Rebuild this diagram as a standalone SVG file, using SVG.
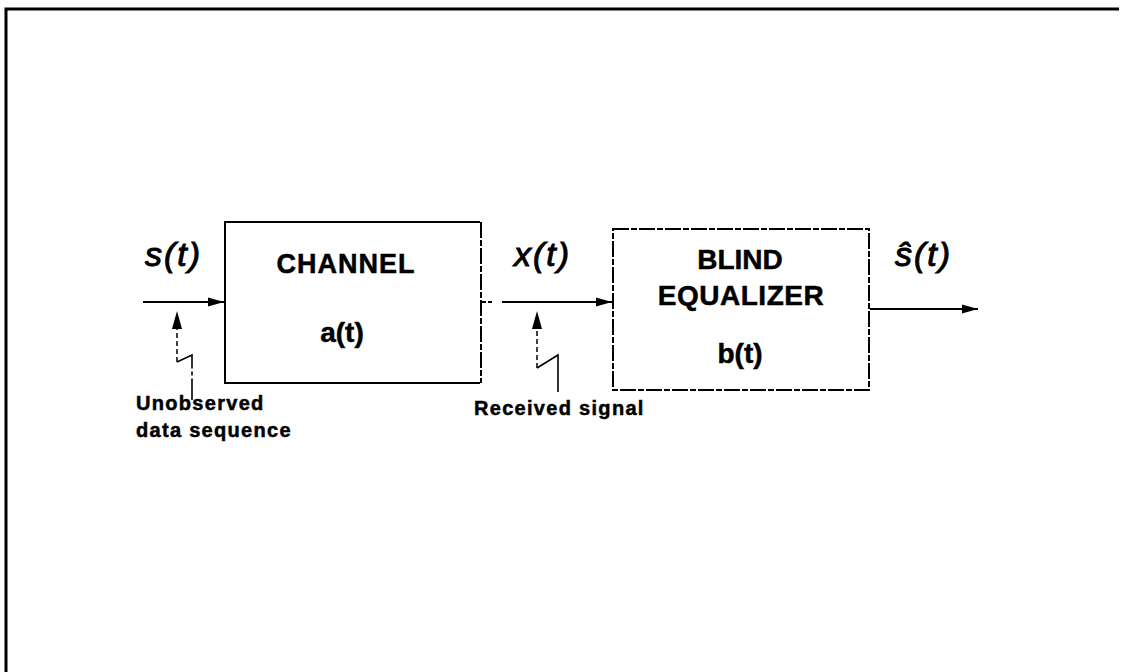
<svg xmlns="http://www.w3.org/2000/svg" width="1121" height="672" viewBox="0 0 1121 672">
<style>
.box{fill:none;stroke:#000;stroke-width:2}
.dbox{fill:none;stroke:#000;stroke-width:2;stroke-dasharray:16 2 6 2}
.line{fill:none;stroke:#000;stroke-width:2.2}
.dash{fill:none;stroke:#000;stroke-width:1.5;stroke-dasharray:5 3}
.thin{fill:none;stroke:#000;stroke-width:1.6}
.lbl{font-family:"Liberation Sans",Arial,sans-serif;font-weight:bold;fill:#000;stroke:#000;stroke-width:0.5}
.sig{font-family:"Liberation Sans",Arial,sans-serif;font-style:italic;fill:#000;stroke:#000;stroke-width:1;font-size:34px;letter-spacing:2px}
.small{font-family:"Liberation Sans",Arial,sans-serif;font-weight:bold;fill:#000;stroke:#000;stroke-width:0.5;font-size:20px;letter-spacing:1.3px}
</style>
<defs>
<marker id="ah" viewBox="0 0 16 10" refX="16" refY="5" markerWidth="16" markerHeight="10" markerUnits="userSpaceOnUse" orient="auto">
<path d="M0,0.5 L16,5 L0,9.5 Z" fill="#000"/>
</marker>
</defs>
<rect width="1121" height="672" fill="#fff"/>
<g id="border">
<path d="M6,672 L6,9 L1119,9" fill="none" stroke="#000" stroke-width="3"/>
</g>
<g id="channel">
<path class="box" d="M480,383 L225,383 L225,222 L480,222"/>
<path class="dbox" d="M481,222 L481,383"/>
<text class="lbl" x="346" y="273" font-size="27" text-anchor="middle" letter-spacing="1">CHANNEL</text>
<text class="lbl" x="342" y="342" font-size="28" text-anchor="middle">a(t)</text>
</g>
<g id="equalizer">
<rect class="dbox" x="613" y="229" width="256" height="161"/>
<text class="lbl" x="740" y="269" font-size="28" text-anchor="middle">BLIND</text>
<text class="lbl" x="741" y="305" font-size="28" text-anchor="middle" letter-spacing="0.5">EQUALIZER</text>
<text class="lbl" x="740" y="363" font-size="28" text-anchor="middle">b(t)</text>
</g>
<g id="signals">
<text class="sig" x="145" y="266">s(t)</text>
<text class="sig" x="514" y="266">x(t)</text>
<text class="sig" x="895" y="266">ŝ(t)</text>
</g>
<g id="connectors">
<line class="line" x1="143" y1="302" x2="224" y2="302" marker-end="url(#ah)"/>
<line class="line" x1="482" y1="302" x2="492" y2="302" stroke-dasharray="4 2"/>
<line class="line" x1="502" y1="302" x2="612" y2="302" marker-end="url(#ah)"/>
<line class="line" x1="870" y1="309" x2="978" y2="309" marker-end="url(#ah)"/>
<line class="dash" x1="177" y1="362" x2="177" y2="325"/>
<path d="M177,311 L172,329 L182,329 Z" fill="#000"/>
<path class="thin" d="M177,362 L192,355 L192,400" stroke-dasharray="30 3 4 3"/>
<line class="dash" x1="537" y1="368" x2="537" y2="325"/>
<path d="M537,311 L532,329 L542,329 Z" fill="#000"/>
<path class="thin" d="M537,368 L558,355 L558,392"/>
</g>
<g id="labels">
<text class="small" x="136" y="410">Unobserved</text>
<text class="small" x="136" y="437">data sequence</text>
<text class="small" x="474" y="415">Received signal</text>
</g>
</svg>
